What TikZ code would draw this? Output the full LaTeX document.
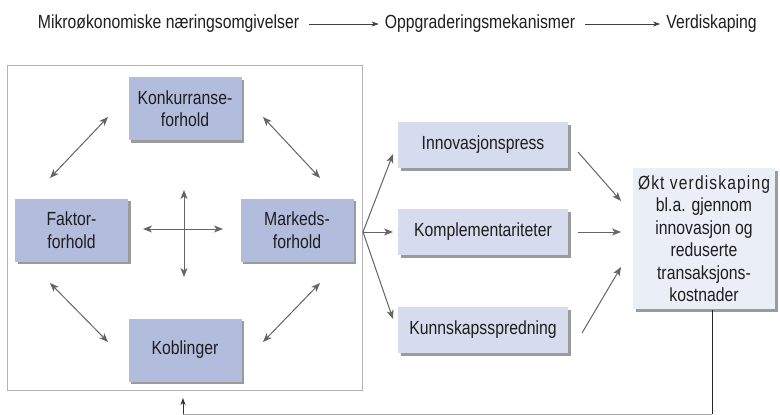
\documentclass[tikz,border=0pt]{standalone}
\usepackage{fontspec}
\setmainfont{Liberation Sans}[FakeStretch=0.83]
\newfontfamily\oktfont{Liberation Sans}[FakeStretch=0.82,LetterSpace=6]
\usetikzlibrary{arrows.meta,shadows}
\definecolor{boxdark}{RGB}{178,189,222}
\definecolor{boxlight}{RGB}{214,219,237}
\definecolor{boxokt}{RGB}{234,238,247}
\definecolor{arrowgray}{RGB}{100,100,100}
\definecolor{txt}{RGB}{30,30,30}
\definecolor{framegray}{RGB}{180,180,180}
\tikzset{
  basebox/.style={draw=none, align=center, inner sep=0pt, text=txt,
    font=\fontsize{19}{22.5}\selectfont,
    drop shadow={shadow xshift=2.5pt, shadow yshift=-2.5pt, fill=black!65, opacity=0.6}},
  darkbox/.style={basebox, fill=boxdark, minimum width=113pt, minimum height=63pt},
  lightbox/.style={basebox, fill=boxlight, minimum width=170pt, minimum height=46pt},
  oktbox/.style={basebox, fill=boxokt, minimum width=142pt, minimum height=141pt},
  conn/.style={draw=arrowgray, line width=1pt, -{Stealth[length=9pt,width=7pt,inset=2.5pt]}},
  biconn/.style={draw=arrowgray, line width=1pt, {Stealth[length=9pt,width=7pt,inset=2.5pt]}-{Stealth[length=9pt,width=7pt,inset=2.5pt]}},
  headtext/.style={text=txt, font=\fontsize{19}{22}\selectfont, inner sep=0pt},
  headarrow/.style={draw=black!75, line width=0.7pt, -{Stealth[length=7pt,width=5pt,inset=2pt]}},
}
\begin{document}
\begin{tikzpicture}[x=1pt,y=-1pt]
\useasboundingbox[fill=white] (0,0) rectangle (780,415);

% header
\node[headtext] (h1) at (168.5,24) {Mikroøkonomiske næringsomgivelser};
\node[headtext] (h2) at (480,24) {Oppgraderingsmekanismer};
\node[headtext] (h3) at (711.5,24) {Verdiskaping};
\draw[headarrow, shorten <=10pt, shorten >=6pt] (h1.east) -- (h2.west);
\draw[headarrow, shorten <=10pt, shorten >=6pt] (h2.east) -- (h3.west);

% frame
\draw[framegray, line width=0.8pt] (7,65) rectangle (362,390);

% left boxes
\node[darkbox] (konk) at (185,108.5) {Konkurranse-\\forhold};
\node[darkbox] (faktor) at (71.5,230) {Faktor-\\forhold};
\node[darkbox] (marked) at (297,230) {Markeds-\\forhold};
\node[darkbox] (kobl) at (185,350) {Koblinger};

% right boxes
\node[lightbox] (innov) at (483,145) {Innovasjonspress};
\node[lightbox] (kompl) at (483,232) {Komplementariteter};
\node[lightbox] (kunn) at (483,330) {Kunnskapsspredning};
\node[oktbox] (okt) at (704,238.5) {{\oktfont Økt verdiskaping}\\bl.a. gjennom\\innovasjon og\\reduserte\\transaksjons-\\kostnader};

% diagonal arrows
\coordinate (d1a) at (50,178);  \coordinate (d1b) at (108,117);
\coordinate (d2a) at (263,117); \coordinate (d2b) at (320,178);
\coordinate (d3a) at (50,283);  \coordinate (d3b) at (108,342);
\coordinate (d4a) at (320,283); \coordinate (d4b) at (263,342);
\draw[biconn] (d1a) -- (d1b);
\draw[biconn] (d2a) -- (d2b);
\draw[biconn] (d3a) -- (d3b);
\draw[biconn] (d4a) -- (d4b);

% cross
\coordinate (cl) at (143,229); \coordinate (cr) at (223,229);
\coordinate (ct) at (184,190); \coordinate (cb) at (184,277);
\draw[biconn] (cl) -- (cr);
\draw[biconn] (ct) -- (cb);

% fan
\coordinate (fan) at (363,232);
\coordinate (f1) at (393,154);
\coordinate (f2) at (393,232);
\coordinate (f3) at (393,319);
\draw[conn] (fan) -- (f1);
\draw[conn] (fan) -- (f2);
\draw[conn] (fan) -- (f3);

% into okt
\coordinate (o1a) at (578,152); \coordinate (o1b) at (621,201);
\coordinate (o2a) at (578,232); \coordinate (o2b) at (621,232);
\coordinate (o3a) at (582,333); \coordinate (o3b) at (621,267);
\draw[conn] (o1a) -- (o1b);
\draw[conn] (o2a) -- (o2b);
\draw[conn] (o3a) -- (o3b);

% feedback
\coordinate (fbtop) at (712,309.5);
\coordinate (fbcorner) at (712,414);
\coordinate (fbleft) at (183,414);
\coordinate (fbtip) at (183,398);
\draw[black!85, line width=0.8pt] (fbtop) -- (fbcorner);
\draw[black!35, line width=0.8pt] (fbcorner) -- (fbleft);
\draw[draw=black!80, line width=0.8pt, -{Stealth[length=7pt,width=5pt,inset=2pt]}] (fbleft) -- (fbtip);
\end{tikzpicture}
\end{document}
